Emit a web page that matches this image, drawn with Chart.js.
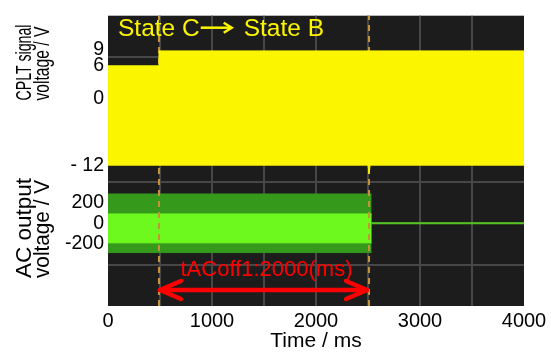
<!DOCTYPE html>
<html>
<head>
<meta charset="utf-8">
<script src="https://cdn.jsdelivr.net/npm/chart.js@4.4.0/dist/chart.umd.min.js"></script>
<style>
html,body{margin:0;padding:0;background:#ffffff;}
#wrap{width:551px;height:352px;position:relative;}
</style>
</head>
<body>
<div id="wrap"><canvas id="c" width="551" height="352"></canvas></div>
<script>
// ---------------- data ----------------
const timeMin = 0;
const timeMax = 4000;
const timeTicks = [0, 1000, 2000, 3000, 4000];
const timeGridStep = 500;

const cpltTicks = [9, 6, 0, -12];
const cpltTickLabels = ['9', '6', '0', '- 12'];
const acTicks = [200, 0, -200];
const acTickLabels = ['200', '0', '-200'];

// CPLT signal envelope (V) – state C (+6 V) then state B (+9 V), PWM low level -12 V
const cpltUpperTime = [0, 486, 490, 4000];
const cpltUpper = [6, 6, 8.7, 8.7];
const cpltLowerTime = [0, 2500, 2510, 2520, 4000];
const cpltLower = [-12, -12, -13.6, -12, -12];

// AC output envelope (V)
const acOnTime = [0, 2535];
const acPeakUpper = [284, 284];
const acPeakLower = [-284, -284];
const acDenseUpper = [90, 90];
const acDenseLower = [-190, -190];
const acOffTime = [2535, 4000];
const acOff = [0, 0];

// cursors (ms)
const cursorTimes = [490, 2510];

const stateFrom = 'State C';
const stateTo = 'State B';
const measureLabel = 'tACoff1:2000(ms)';
const cpltTitle = ['CPLT signal', 'voltage / V'];
const acTitle = ['AC output', 'voltage / V'];
const xTitle = 'Time / ms';

// ---------------- chart ----------------
const FONT = "'Liberation Sans', Arial, sans-serif";
Chart.defaults.font.family = FONT;
Chart.defaults.color = '#000000';

const YELLOW = '#fbf500';
const DARKGREEN = '#359a1c';
const BRIGHTGREEN = '#6ef91e';
const LINEGREEN = '#54c41e';
const GRID = '#474747';
const CURSOR = '#c8923a';

const pts = (xs, ys) => xs.map((x, i) => ({ x: x, y: ys[i] }));
const line = (o) => Object.assign({ pointRadius: 0, borderWidth: 1, tension: 0, fill: false }, o);

const datasets = [
  line({ data: pts(cpltUpperTime, cpltUpper), yAxisID: 'yc', borderColor: YELLOW, backgroundColor: YELLOW, fill: 1 }),
  line({ data: pts(cpltLowerTime, cpltLower), yAxisID: 'yc', borderColor: YELLOW }),
  line({ data: pts([cursorTimes[0], cursorTimes[0]], [0, 7]), yAxisID: 'yg', borderColor: CURSOR, borderWidth: 2, borderDash: [6, 5] }),
  line({ data: pts([cursorTimes[1], cursorTimes[1]], [0, 7]), yAxisID: 'yg', borderColor: CURSOR, borderWidth: 2, borderDash: [6, 5] }),
  line({ data: pts(acOnTime, acDenseUpper), yAxisID: 'ya', borderColor: BRIGHTGREEN, backgroundColor: BRIGHTGREEN, fill: 5 }),
  line({ data: pts(acOnTime, acDenseLower), yAxisID: 'ya', borderColor: BRIGHTGREEN }),
  line({ data: pts(acOnTime, acPeakUpper), yAxisID: 'ya', borderColor: DARKGREEN, backgroundColor: DARKGREEN, fill: 7 }),
  line({ data: pts(acOnTime, acPeakLower), yAxisID: 'ya', borderColor: DARKGREEN }),
  line({ data: pts(acOffTime, acOff), yAxisID: 'ya', borderColor: LINEGREEN, borderWidth: 2 })
];

const edgeColor = (lo, hi) => (c) => (c.tick && (c.tick.value === lo || c.tick.value === hi)) ? 'rgba(0,0,0,0)' : GRID;

const bgPlugin = {
  id: 'scopeBg',
  beforeDraw(chart) {
    const a = chart.chartArea, g = chart.ctx;
    g.save();
    g.fillStyle = '#1c1c1c';
    g.fillRect(a.left, a.top, a.right - a.left, a.bottom - a.top);
    g.restore();
  }
};

function squeezedText(g, text, x, y, len) {
  g.save();
  g.translate(x, y);
  g.rotate(-Math.PI / 2);
  const w = g.measureText(text).width;
  g.scale(len / w, 1);
  g.textAlign = 'center';
  g.textBaseline = 'alphabetic';
  g.fillText(text, 0, 0);
  g.restore();
}

const annoPlugin = {
  id: 'annotations',
  afterDatasetsDraw(chart) {
    const g = chart.ctx, a = chart.chartArea, xs = chart.scales.x;
    g.save();
    // state labels
    g.fillStyle = YELLOW; g.strokeStyle = YELLOW;
    g.font = '24.5px ' + FONT;
    g.textBaseline = 'alphabetic'; g.textAlign = 'left';
    const sx = a.left + 10, sy = a.top + 20;
    g.fillText(stateFrom, sx, sy);
    const w1 = g.measureText(stateFrom).width;
    const ax1 = sx + w1 + 1, ax2 = ax1 + 31, ay = sy - 8;
    g.lineWidth = 2.5;
    g.beginPath(); g.moveTo(ax1, ay); g.lineTo(ax2, ay); g.stroke();
    g.beginPath(); g.moveTo(ax2 - 8, ay - 5); g.lineTo(ax2, ay); g.lineTo(ax2 - 8, ay + 5); g.stroke();
    g.fillText(stateTo, ax2 + 12, sy);

    // measurement arrow
    const x1 = xs.getPixelForValue(cursorTimes[0]) + 1;
    const x2 = xs.getPixelForValue(cursorTimes[1]) - 2;
    const yArr = a.bottom - 16;
    g.strokeStyle = '#ff0000'; g.fillStyle = '#ff0000';
    g.lineWidth = 4.5; g.lineCap = 'round'; g.lineJoin = 'round';
    g.beginPath(); g.moveTo(x1, yArr); g.lineTo(x2, yArr); g.stroke();
    g.beginPath(); g.moveTo(x1 + 21, yArr - 9); g.lineTo(x1, yArr); g.lineTo(x1 + 21, yArr + 9); g.stroke();
    g.beginPath(); g.moveTo(x2 - 21, yArr - 9); g.lineTo(x2, yArr); g.lineTo(x2 - 21, yArr + 9); g.stroke();
    g.font = '22px ' + FONT;
    g.textAlign = 'center'; g.textBaseline = 'middle';
    g.fillText(measureLabel, (x1 + x2) / 2 + 3, a.bottom - 36);
    g.restore();

    // y-axis titles
    g.save();
    g.fillStyle = '#000000';
    g.font = '22px ' + FONT;
    squeezedText(g, cpltTitle[0], 31, 62.5, 76);
    squeezedText(g, cpltTitle[1], 48.5, 63.5, 74);
    squeezedText(g, acTitle[0], 31, 228, 100);
    squeezedText(g, acTitle[1], 48.5, 229, 98);
    g.restore();
  }
};

new Chart(document.getElementById('c'), {
  type: 'line',
  data: { datasets: datasets },
  plugins: [bgPlugin, annoPlugin],
  options: {
    responsive: false,
    animation: false,
    devicePixelRatio: 1,
    layout: { padding: { top: 13, right: 27, left: 0, bottom: 0 } },
    plugins: { legend: { display: false }, tooltip: { enabled: false } },
    scales: {
      x: {
        type: 'linear', min: timeMin, max: timeMax,
        ticks: {
          stepSize: timeGridStep, autoSkip: false, maxRotation: 0, padding: 3,
          font: { size: 20 }, color: '#000000',
          callback: (v) => timeTicks.includes(v) ? String(v) : ''
        },
        grid: { color: edgeColor(timeMin, timeMax), lineWidth: 2, drawTicks: false },
        border: { display: false },
        title: { display: true, text: xTitle, font: { size: 21, lineHeight: 1.0 }, color: '#000000', padding: { top: 0, bottom: 0 } },
        afterFit: (s) => { s.height = 46; }
      },
      yc: {
        type: 'linear', position: 'left', stack: 'v', stackWeight: 167, weight: 2,
        min: -14.90, max: 15.08,
        afterBuildTicks: (s) => { s.ticks = cpltTicks.map(v => ({ value: v })); },
        ticks: { padding: 4, font: { size: 19.5 }, color: '#000000',
          callback: (v) => cpltTickLabels[cpltTicks.indexOf(v)] },
        grid: { display: false, drawTicks: false },
        border: { display: false },
        afterFit: (s) => { s.width = 108; }
      },
      ya: {
        type: 'linear', position: 'left', stack: 'v', stackWeight: 126, weight: 1,
        min: -802.9, max: 408.7,
        afterBuildTicks: (s) => { s.ticks = acTicks.map(v => ({ value: v })); },
        ticks: { padding: 4, font: { size: 19.5 }, color: '#000000',
          callback: (v) => acTickLabels[acTicks.indexOf(v)] },
        grid: { display: false, drawTicks: false },
        border: { display: false },
        afterFit: (s) => { s.width = 108; }
      },
      yg: {
        type: 'linear', position: 'right', min: 0, max: 7,
        ticks: { display: false, stepSize: 1 },
        grid: { color: edgeColor(0, 7), lineWidth: 2, drawTicks: false },
        border: { display: false },
        afterFit: (s) => { s.width = 0; }
      }
    }
  }
});
</script>
</body>
</html>
